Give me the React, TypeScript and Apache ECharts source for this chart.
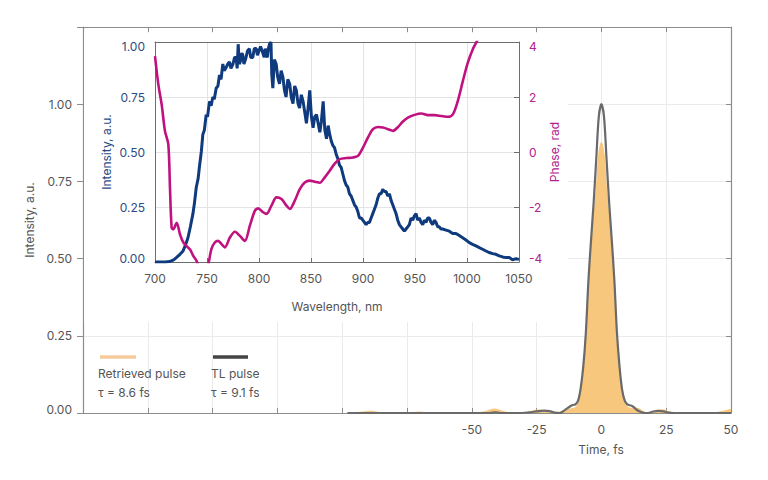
import React, { useEffect, useRef } from 'react';
import * as echarts from 'echarts';

// ---- Main chart: pulse intensity vs time (fs) ----
const timeFs = [
  -98, -92, -89, -86, -80,
  -72, -70, -68, -60, -50,
  -45, -43, -41, -39, -36,
  -32, -28, -26, -24, -22,
  -20, -18, -16, -14, -12,
  -11, -10, -9, -8, -7,
  -6, -5, -4, -3, -2,
  -1, 0, 1, 2, 3,
  4, 5, 6, 7, 8,
  9, 10, 11, 12, 13,
  14, 15, 16, 17, 18,
  20, 22, 24, 26, 28,
  30, 35, 40, 44, 47,
  50,
];
const retrievedPulse = [
  0, 0.003, 0.006, 0.002, 0,
  0.002, 0.003, 0.001, 0, 0,
  0.004, 0.01, 0.013, 0.008, 0.001,
  0, 0.003, 0.008, 0.01, 0.006,
  0.002, 0.001, 0.003, 0.008, 0.013,
  0.015, 0.018, 0.03, 0.07, 0.14,
  0.26, 0.42, 0.54, 0.63, 0.72,
  0.84, 0.877, 0.84, 0.72, 0.63,
  0.54, 0.42, 0.26, 0.14, 0.07,
  0.035, 0.02, 0.016, 0.015, 0.016,
  0.015, 0.012, 0.005, 0.001, 0,
  0.003, 0.01, 0.01, 0.004, 0,
  0, 0, 0, 0.001, 0.006,
  0.012,
];
const tlPulse = [
  0, 0, 0, 0, 0,
  0, 0, 0, 0, 0,
  0, 0, 0.002, 0, 0,
  0, 0.002, 0.004, 0.006, 0.008,
  0.006, 0.001, 0, 0.01, 0.022,
  0.026, 0.028, 0.04, 0.08, 0.15,
  0.26, 0.43, 0.56, 0.68, 0.82,
  0.96, 1.0, 0.96, 0.82, 0.68,
  0.56, 0.43, 0.26, 0.15, 0.075,
  0.04, 0.028, 0.025, 0.022, 0.015,
  0.008, 0.004, 0.001, 0, 0,
  0.005, 0.007, 0.005, 0.001, 0,
  0, 0, 0, 0, 0,
  0,
];

// ---- Inset: spectrum intensity vs wavelength (nm) ----
const wavelengthNm = [
  700, 705, 710, 714, 718, 720.5, 724, 727, 729.5, 731.7,
  734, 736.5, 738, 739.7, 741.5, 742.9, 744.5, 746, 747.5, 749.2,
  750.5, 752.4, 754, 755.6, 757, 758.8, 760.5, 762, 763.5, 765.2,
  766.5, 768, 770, 771.6, 773, 775, 776.5, 778, 779, 780,
  781, 782, 783.5, 784.4, 785.5, 787, 789, 790.8, 792, 794,
  795.5, 797.3, 798.5, 800, 801.5, 803.7, 805, 806, 807, 808,
  809, 810.1, 811.5, 812.3, 813.3, 814.8, 816.5, 818, 819.7, 821.3,
  823, 824.5, 826, 827.7, 829.5, 831, 832.7, 834.3, 835.9, 837.5,
  839, 840.7, 842.4, 844, 845.6, 847.2, 848.8, 850.4, 852, 853.6,
  855.3, 856.9, 858.5, 860, 861.7, 863.3, 864.9, 866.5, 868, 869.5,
  871, 872.6, 874.2, 875.8, 877.4, 879, 880.6, 882.2, 883.8, 885.4,
  887, 888.6, 890.2, 891.8, 893.4, 895, 896.6, 898.2, 899.8, 901.4,
  903, 904.6, 906.2, 907.8, 909.4, 911, 912.6, 914.2, 915.8, 917.4,
  919, 920.6, 922.2, 923.8, 925.4, 927, 928.6, 930.2, 931.8, 933.4,
  935, 936.6, 938.2, 939.8, 941.4, 943, 944.6, 946.2, 947.8, 949.4,
  951, 952.6, 954.2, 955.8, 957.4, 959, 960.6, 962.2, 963.8, 965.4,
  967, 968.6, 970.2, 971.8, 973.4, 975, 976.6, 979.8, 983, 986.2,
  989.4, 992.6, 995.8, 999, 1002.2, 1005.4, 1008.6, 1011.8, 1015, 1018.2,
  1021.4, 1024.6, 1027.8, 1031, 1034.2, 1037.4, 1040.6, 1043.8, 1047, 1050,
];
const spectrumIntensity = [
  0, 0, 0, 0.002, 0.01, 0.02, 0.035, 0.05, 0.08, 0.11,
  0.16, 0.22, 0.27, 0.34, 0.38, 0.44, 0.5, 0.58, 0.6, 0.67,
  0.66, 0.73, 0.71, 0.75, 0.74, 0.79, 0.8, 0.85, 0.83, 0.9,
  0.87, 0.88, 0.9, 0.91, 0.88, 0.9, 0.93, 0.93, 0.88, 0.99,
  0.9, 0.91, 0.95, 0.94, 0.9, 0.92, 0.96, 0.97, 0.93, 0.93,
  0.97, 0.97, 0.94, 0.96, 0.98, 0.95, 0.93, 0.97, 0.94, 0.93,
  0.97, 0.99, 1.0, 0.85, 0.79, 0.92, 0.9, 0.84, 0.81, 0.87,
  0.84, 0.78, 0.75, 0.83, 0.81, 0.75, 0.72, 0.8, 0.78, 0.72,
  0.7, 0.76, 0.73, 0.68, 0.63, 0.7, 0.78, 0.66, 0.61, 0.66,
  0.67, 0.63, 0.59, 0.64, 0.73, 0.6, 0.56, 0.62, 0.58, 0.55,
  0.53, 0.52, 0.49, 0.47, 0.44, 0.43, 0.4, 0.37, 0.35, 0.34,
  0.31, 0.3, 0.28, 0.26, 0.25, 0.23, 0.2, 0.2, 0.19, 0.18,
  0.17, 0.18, 0.18, 0.2, 0.22, 0.24, 0.26, 0.29, 0.31, 0.31,
  0.33, 0.32, 0.32, 0.3, 0.31, 0.28, 0.26, 0.24, 0.22, 0.19,
  0.17, 0.16, 0.15, 0.14, 0.15, 0.16, 0.17, 0.2, 0.19, 0.21,
  0.22, 0.19, 0.2, 0.18, 0.17, 0.19, 0.18, 0.2, 0.2, 0.18,
  0.17, 0.19, 0.18, 0.16, 0.16, 0.15, 0.15, 0.145, 0.14, 0.13,
  0.13, 0.12, 0.11, 0.1, 0.088, 0.08, 0.073, 0.065, 0.058, 0.05,
  0.043, 0.038, 0.035, 0.028, 0.023, 0.02, 0.02, 0.01, 0.015, 0.012,
];

// ---- Inset: spectral phase (rad) vs wavelength (nm) ----
const phaseWavelengthNm = [
  700, 703.2, 706.4, 709.6, 712.8, 714.4, 716, 717.6, 720.8, 724,
  727.2, 730.4, 733.6, 736.8, 740, 744, 748, 750, 752, 754.3,
  757.5, 760.7, 764, 767.2, 772, 776.8, 781.6, 786.4, 791.2, 796,
  799.2, 804, 807.2, 812, 816.8, 821.6, 826.4, 829.6, 834.4, 839.2,
  844, 848.8, 853.6, 858.4, 863.2, 868, 872.8, 877.6, 884, 890.4,
  895.2, 900, 904.8, 909.6, 914.4, 919.2, 924, 928.8, 933.6, 938.4,
  943.2, 949.6, 956, 962.4, 968.8, 975.2, 981.6, 986.4, 991.2, 996,
  1000.8, 1005.6, 1010.4, 1015,
];
const phaseRad = [
  3.49, 2.46, 1.73, 0.76, 0.28, -1.3, -2.75, -2.81, -2.57, -2.99,
  -3.29, -3.42, -3.54, -3.78, -3.96, -4.4, -4.5, -4.3, -3.95, -3.52,
  -3.29, -3.23, -3.35, -3.47, -3.11, -2.9, -3.05, -3.23, -2.68, -2.14,
  -2.05, -2.19, -2.25, -1.95, -1.65, -1.71, -1.95, -2.07, -1.77, -1.35,
  -1.11, -1.04, -1.08, -1.12, -0.92, -0.68, -0.42, -0.26, -0.22, -0.2,
  -0.14, 0.16, 0.53, 0.83, 0.91, 0.89, 0.83, 0.77, 0.91, 1.11,
  1.25, 1.35, 1.4, 1.34, 1.34, 1.31, 1.28, 1.37, 1.86, 2.58,
  3.25, 3.74, 4.1, 4.7,
];

const FONT = 'Inter, "Noto Sans", sans-serif';
const GRAY_TEXT = '#555555';
const NAVY = '#0f3a7d';
const MAGENTA = '#c0127f';
const NAVY_TEXT = '#2b4b86';
const MAGENTA_TEXT = '#b3218c';
const FRAME = '#8c8c8c';
const INSET_FRAME = '#6e6e6e';
const GRID_MAIN = '#ebebeb';
const GRID_INSET = '#e4e4e4';

function richLabel(color: string) {
  const base = { color, fontSize: 12, fontFamily: FONT };
  return {
    t: { ...base, padding: [8, 0, 0, 0] },
    b: { ...base, padding: [0, 0, 8, 0] },
  };
}

export default function App() {
  const ref = useRef<HTMLDivElement>(null);

  useEffect(() => {
    if (!ref.current) return;
    const chart = echarts.init(ref.current, undefined, { renderer: 'svg' });

    const tlData = timeFs.map((t, i) => [t, tlPulse[i]]);
    const retData = timeFs.map((t, i) => [t, retrievedPulse[i]]);
    const specData = wavelengthNm.map((w, i) => [w, spectrumIntensity[i]]);
    const phaseData = phaseWavelengthNm.map((w, i) => [w, phaseRad[i]]);

    const labelBase = { color: GRAY_TEXT, fontSize: 12, fontFamily: FONT };

    chart.setOption({
      animation: false,
      backgroundColor: '#ffffff',
      grid: [
        { left: 83, top: 27, width: 648, height: 386 },
        { left: 155, top: 42, width: 364, height: 220 },
      ],
      xAxis: [
        {
          gridIndex: 0,
          type: 'value',
          min: -200,
          max: 50,
          interval: 25,
          position: 'bottom',
          z: 0,
          axisLine: { show: true, onZero: false, lineStyle: { color: FRAME, width: 1.2 } },
          axisTick: { show: true, inside: true, length: 5, lineStyle: { color: FRAME } },
          axisLabel: {
            ...labelBase,
            margin: 10,
            formatter: (v: number) => (v < -50 ? '' : String(v)),
          },
          splitLine: { show: true, lineStyle: { color: GRID_MAIN, width: 1 } },
        },
        {
          gridIndex: 1,
          type: 'value',
          min: 700,
          max: 1050,
          interval: 50,
          position: 'bottom',
          z: 3,
          name: 'Wavelength, nm',
          nameLocation: 'middle',
          nameGap: 38,
          nameTextStyle: { ...labelBase },
          axisLine: { show: true, onZero: false, lineStyle: { color: INSET_FRAME, width: 1 } },
          axisTick: { show: true, inside: true, length: 4, lineStyle: { color: INSET_FRAME } },
          axisLabel: { ...labelBase, margin: 10, formatter: (v: number) => String(v) },
          splitLine: { show: true, lineStyle: { color: GRID_INSET, width: 1 } },
        },
        {
          gridIndex: 1,
          type: 'value',
          min: 700,
          max: 1050,
          interval: 50,
          position: 'top',
          z: 3,
          axisLine: { show: true, onZero: false, lineStyle: { color: INSET_FRAME, width: 1 } },
          axisTick: { show: false },
          axisLabel: { show: false },
          splitLine: { show: false },
        },
        {
          gridIndex: 0,
          type: 'value',
          min: -200,
          max: 50,
          interval: 25,
          position: 'top',
          z: 0,
          axisLine: { show: true, onZero: false, lineStyle: { color: FRAME, width: 1.2 } },
          axisTick: { show: true, inside: true, length: 5, lineStyle: { color: FRAME } },
          axisLabel: { show: false },
          splitLine: { show: false },
        },
      ],
      yAxis: [
        {
          gridIndex: 0,
          type: 'value',
          min: 0,
          max: 1.25,
          interval: 0.25,
          position: 'left',
          z: 0,
          name: 'Intensity, a.u.',
          nameLocation: 'middle',
          nameGap: 44,
          nameRotate: 90,
          nameTextStyle: { ...labelBase },
          axisLine: { show: true, onZero: false, lineStyle: { color: FRAME, width: 1.2 } },
          axisTick: { show: true, inside: false, length: 6, lineStyle: { color: FRAME } },
          axisLabel: {
            ...labelBase,
            margin: 11,
            formatter: (v: number) => {
              if (v > 1.01) return '';
              if (v === 0) return '{b|0.00}';
              return v.toFixed(2);
            },
            rich: richLabel(GRAY_TEXT),
          },
          splitLine: { show: true, lineStyle: { color: GRID_MAIN, width: 1 } },
        },
        {
          gridIndex: 0,
          type: 'value',
          min: 0,
          max: 1.25,
          interval: 0.25,
          position: 'right',
          z: 0,
          axisLine: { show: true, onZero: false, lineStyle: { color: FRAME, width: 1.2 } },
          axisTick: { show: true, inside: true, length: 5, lineStyle: { color: FRAME } },
          axisLabel: { show: false },
          splitLine: { show: false },
        },
        {
          gridIndex: 1,
          type: 'value',
          min: 0,
          max: 1,
          interval: 0.25,
          position: 'left',
          z: 3,
          name: 'Intensity, a.u.',
          nameLocation: 'middle',
          nameGap: 43,
          nameRotate: 90,
          nameTextStyle: { color: NAVY_TEXT, fontSize: 12, fontFamily: FONT },
          axisLine: { show: true, onZero: false, lineStyle: { color: INSET_FRAME, width: 1 } },
          axisTick: { show: false },
          axisLabel: {
            color: NAVY_TEXT,
            fontSize: 12,
            fontFamily: FONT,
            margin: 10,
            formatter: (v: number) => {
              if (v === 0) return '{b|0.00}';
              if (v === 1) return '{t|1.00}';
              return v.toFixed(2);
            },
            rich: richLabel(NAVY_TEXT),
          },
          splitLine: { show: true, lineStyle: { color: GRID_INSET, width: 1 } },
        },
        {
          gridIndex: 1,
          type: 'value',
          min: -4,
          max: 4,
          interval: 2,
          position: 'right',
          z: 3,
          name: 'Phase, rad',
          nameLocation: 'middle',
          nameGap: 29,
          nameRotate: 90,
          nameTextStyle: { color: MAGENTA_TEXT, fontSize: 12, fontFamily: FONT },
          axisLine: { show: true, onZero: false, lineStyle: { color: INSET_FRAME, width: 1 } },
          axisTick: { show: true, inside: true, length: 5, lineStyle: { color: INSET_FRAME } },
          axisLabel: {
            color: MAGENTA_TEXT,
            fontSize: 12,
            fontFamily: FONT,
            margin: 10,
            formatter: (v: number) => {
              if (v === -4) return '{b|-4}';
              if (v === 4) return '{t|4}';
              return String(v);
            },
            rich: richLabel(MAGENTA_TEXT),
          },
          splitLine: { show: false },
        },
      ],
      series: [
        {
          name: 'Retrieved pulse',
          type: 'line',
          xAxisIndex: 0,
          yAxisIndex: 0,
          data: retData,
          smooth: 0.3,
          symbol: 'none',
          z: 2,
          lineStyle: { color: '#f6c57c', width: 1 },
          areaStyle: { color: '#f8c77e', opacity: 1 },
        },
        {
          name: 'TL pulse',
          type: 'line',
          xAxisIndex: 0,
          yAxisIndex: 0,
          data: tlData,
          smooth: 0.3,
          symbol: 'none',
          z: 3,
          lineStyle: { color: '#6a6a6a', width: 2.2 },
        },
        {
          name: 'Spectrum',
          type: 'line',
          xAxisIndex: 1,
          yAxisIndex: 2,
          data: specData,
          symbol: 'none',
          z: 5,
          lineStyle: { color: NAVY, width: 3 },
        },
        {
          name: 'Phase',
          type: 'line',
          xAxisIndex: 1,
          yAxisIndex: 3,
          data: phaseData,
          smooth: 0.3,
          symbol: 'none',
          z: 6,
          lineStyle: { color: MAGENTA, width: 2.6 },
        },
      ],
      graphic: [
        {
          type: 'rect',
          z: 1,
          silent: true,
          shape: { x: 84, y: 33, width: 484, height: 289 },
          style: { fill: '#ffffff' },
        },
        {
          type: 'line',
          z: 4,
          shape: { x1: 100, y1: 357, x2: 136, y2: 357 },
          style: { stroke: '#f6cb9c', lineWidth: 3.5 },
        },
        {
          type: 'line',
          z: 4,
          shape: { x1: 213, y1: 357, x2: 248, y2: 357 },
          style: { stroke: '#444444', lineWidth: 3.5 },
        },
        {
          type: 'text',
          z: 4,
          x: 98,
          y: 373,
          style: { text: 'Retrieved pulse', fill: GRAY_TEXT, font: `12px ${FONT}`, align: 'left', verticalAlign: 'middle', textAlign: 'left', textVerticalAlign: 'middle' },
        },
        {
          type: 'text',
          z: 4,
          x: 98,
          y: 392.5,
          style: { text: 'τ = 8.6 fs', fill: GRAY_TEXT, font: `12px ${FONT}`, align: 'left', verticalAlign: 'middle', textAlign: 'left', textVerticalAlign: 'middle' },
        },
        {
          type: 'text',
          z: 4,
          x: 211,
          y: 373,
          style: { text: 'TL pulse', fill: GRAY_TEXT, font: `12px ${FONT}`, align: 'left', verticalAlign: 'middle', textAlign: 'left', textVerticalAlign: 'middle' },
        },
        {
          type: 'text',
          z: 4,
          x: 211,
          y: 392.5,
          style: { text: 'τ = 9.1 fs', fill: GRAY_TEXT, font: `12px ${FONT}`, align: 'left', verticalAlign: 'middle', textAlign: 'left', textVerticalAlign: 'middle' },
        },
        {
          type: 'text',
          z: 4,
          x: 601,
          y: 449,
          style: { text: 'Time, fs', fill: GRAY_TEXT, font: `12px ${FONT}`, align: 'center', verticalAlign: 'middle', textAlign: 'center', textVerticalAlign: 'middle' },
        },
      ],
    });

    return () => {
      chart.dispose();
    };
  }, []);

  return (
    <div
      ref={ref}
      style={{ position: 'fixed', left: 0, top: 0, width: 768, height: 480 }}
    />
  );
}
